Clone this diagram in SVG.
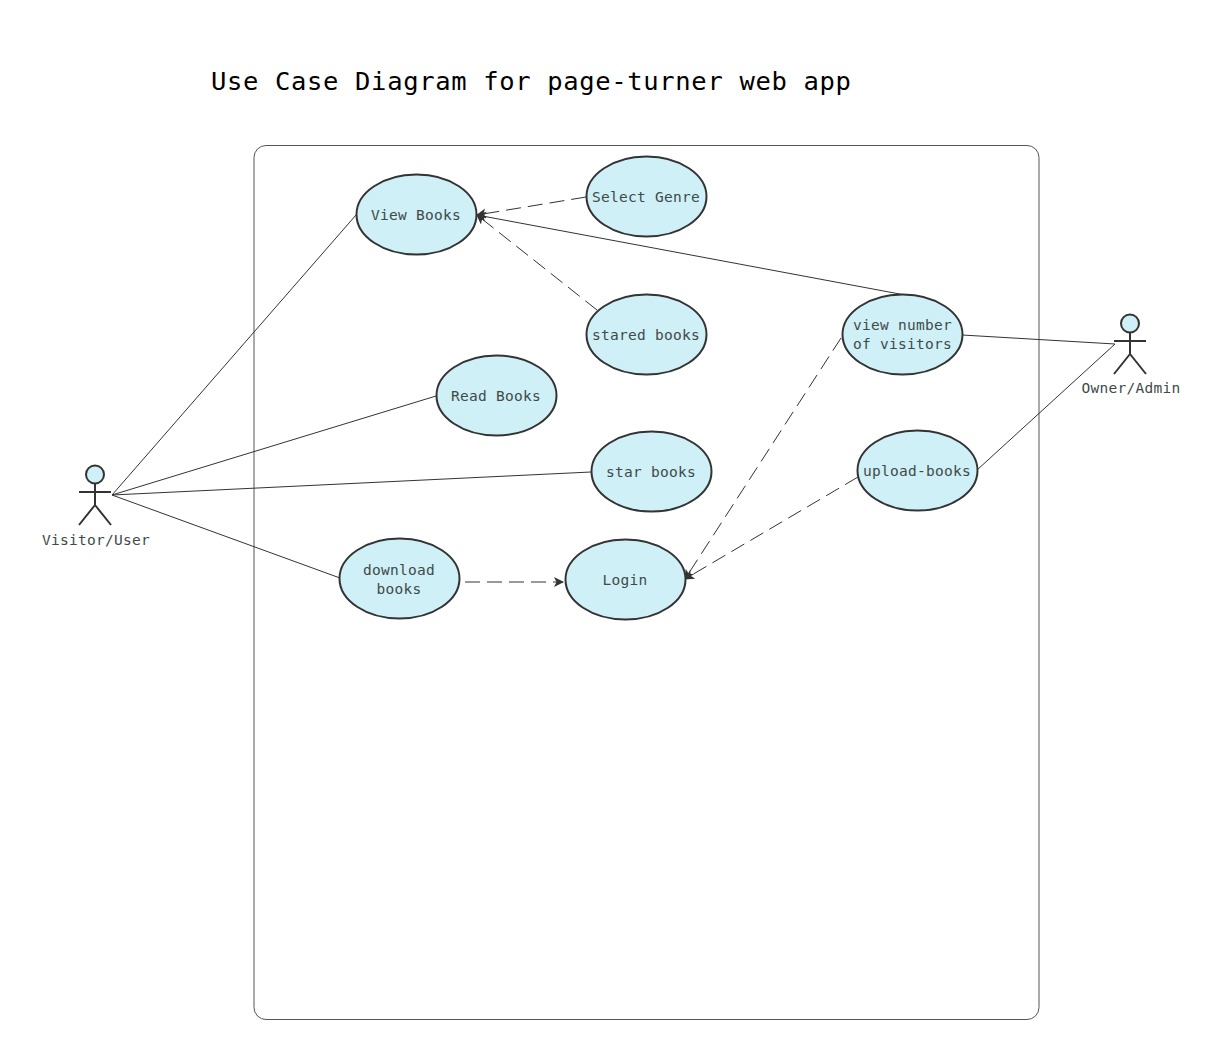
<svg xmlns="http://www.w3.org/2000/svg" width="1224" height="1057" viewBox="0 0 1224 1057">
<style>
text{font-family:"DejaVu Sans Mono","Liberation Mono",monospace;}
.l{font-size:14.500px;letter-spacing:.27px;fill:#3f4a4a;text-anchor:middle}
.u ellipse{fill:#cff0f6;stroke:#333;stroke-width:2}
.a{fill:none;stroke:#333;stroke-width:2}
.c{fill:none;stroke:#333;stroke-width:1}
.d{stroke-dasharray:15 7}
</style>
<defs><marker id="arr" markerWidth="12" markerHeight="12" refX="9" refY="5" orient="auto" markerUnits="userSpaceOnUse"><path d="M0 0L10 5L0 10L2.500 5Z" fill="#333"/></marker></defs>
<rect width="1224" height="1057" fill="#fff"/>
<text id="title" x="211" y="90" font-size="25.500" letter-spacing="0.66" fill="#000">Use Case Diagram for page-turner web app</text>
<rect id="boundary" x="254" y="145.500" width="785" height="874" rx="12" fill="none" stroke="#555" stroke-width="1"/>
<g id="connectors">
<path class="c" d="M112 495L356 215"/>
<path class="c" d="M112 495L436 396"/>
<path class="c" d="M112 495L591 472"/>
<path class="c" d="M112 495L340 578"/>
<path class="c d" d="M586 197L477 215" marker-end="url(#arr)"/>
<path class="c d" d="M597 310L477 215" marker-end="url(#arr)"/>
<path class="c" d="M905 295L477 215" marker-end="url(#arr)"/>
<path class="c d" d="M465 582L563 582" marker-end="url(#arr)"/>
<path class="c d" d="M841 338L685 579" marker-end="url(#arr)"/>
<path class="c d" d="M858 477L685 579" marker-end="url(#arr)"/>
<path class="c" d="M962 335L1115 344"/>
<path class="c" d="M977 470L1115 344"/>
</g>
<g id="visitor"><circle cx="95" cy="474.500" r="9" fill="#cff0f6" stroke="#333" stroke-width="2"/><path class="a" d="M95 483.500V505M79 492H111M95 505L79 525M95 505L111 525"/><text class="l" x="96" y="545">Visitor/User</text></g>
<g id="owner"><circle cx="1130" cy="323.500" r="9" fill="#cff0f6" stroke="#333" stroke-width="2"/><path class="a" d="M1130 332.500V354M1114 341H1146M1130 354L1114 374M1130 354L1146 374"/><text class="l" x="1131" y="393">Owner/Admin</text></g>
<g id="view-books" class="u"><ellipse cx="416.500" cy="214.500" rx="60" ry="40"/><text class="l" x="416" y="220">View Books</text></g>
<g id="select-genre" class="u"><ellipse cx="646.500" cy="196.500" rx="60" ry="40"/><text class="l" x="646" y="202">Select Genre</text></g>
<g id="stared-books" class="u"><ellipse cx="646.500" cy="334.500" rx="60" ry="40"/><text class="l" x="646" y="340">stared books</text></g>
<g id="read-books" class="u"><ellipse cx="496.500" cy="395.500" rx="60" ry="40"/><text class="l" x="496" y="401">Read Books</text></g>
<g id="star-books" class="u"><ellipse cx="651.500" cy="471.500" rx="60" ry="40"/><text class="l" x="651" y="477">star books</text></g>
<g id="download-books" class="u"><ellipse cx="399.500" cy="578.500" rx="60" ry="40"/><text class="l" x="399" y="575">download</text><text class="l" x="399" y="594">books</text></g>
<g id="login" class="u"><ellipse cx="625.500" cy="579.500" rx="60" ry="40"/><text class="l" x="625" y="585">Login</text></g>
<g id="view-visitors" class="u"><ellipse cx="902.500" cy="334.500" rx="60" ry="40"/><text class="l" x="902.500" y="330">view number</text><text class="l" x="902.500" y="349">of visitors</text></g>
<g id="upload-books" class="u"><ellipse cx="917.500" cy="470.500" rx="60" ry="40"/><text class="l" x="917" y="476">upload-books</text></g>
</svg>
